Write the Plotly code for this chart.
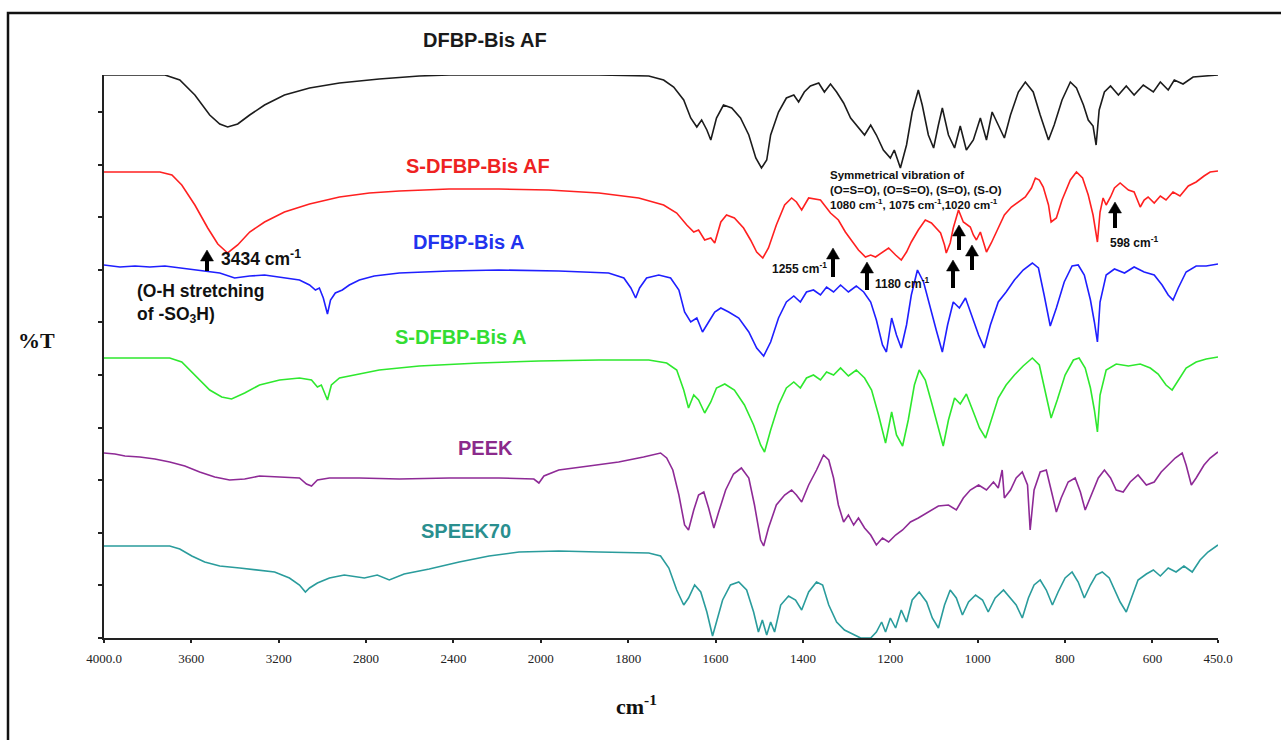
import plotly.graph_objects as go

# ---------------- data (wavenumber cm-1, %T with vertical stacking offset) ----------------
tick_values = [4000, 3600, 3200, 2800, 2400, 2000, 1800, 1600, 1400, 1200, 1000, 800, 600, 450]
tick_labels = ["4000.0", "3600", "3200", "2800", "2400", "2000", "1800", "1600", "1400",
               "1200", "1000", "800", "600", "450.0"]

series_names = ["DFBP-Bis AF", "S-DFBP-Bis AF", "DFBP-Bis A", "S-DFBP-Bis A", "PEEK", "SPEEK70"]

bisaf_w = [4000, 3721, 3653, 3584, 3516, 3470, 3434, 3388, 3333, 3265, 3174, 3059, 2922, 2831, 2740,
           2557, 2420, 1867, 1753, 1719, 1696, 1673, 1657, 1643, 1632, 1620, 1611, 1598, 1582, 1563,
           1543, 1524, 1508, 1495, 1483, 1474, 1456, 1438, 1421, 1410, 1397, 1383, 1364, 1351, 1337,
           1323, 1307, 1291, 1273, 1259, 1245, 1232, 1216, 1200, 1191, 1177, 1163, 1150, 1136, 1127,
           1113, 1101, 1090, 1081, 1067, 1053, 1040, 1026, 1010, 994, 980, 967, 953, 939, 925, 907,
           891, 873, 857, 838, 825, 807, 788, 774, 758, 747, 736, 729, 722, 710, 696, 678, 660, 642,
           621, 598, 582, 564, 550, 530, 507, 484, 450]
bisaf_t = [112.6, 112.6, 111.6, 108.6, 104.6, 102.8, 102.2, 102.8, 104.6, 106.6, 108.6, 110.0, 111.0,
           111.4, 111.8, 112.4, 112.6, 112.6, 112.4, 111.6, 110.2, 107.6, 104.0, 102.2, 103.6, 101.6,
           99.6, 104.0, 106.6, 106.0, 104.0, 100.6, 96.0, 94.0, 95.6, 100.6, 105.2, 108.0, 108.6,
           107.2, 109.2, 110.4, 111.0, 109.2, 110.8, 109.2, 107.0, 104.0, 102.0, 100.6, 102.6, 100.6,
           97.6, 96.0, 97.6, 94.0, 98.6, 105.2, 109.6, 106.6, 100.6, 98.0, 102.6, 106.0, 100.6, 98.0,
           102.4, 97.6, 99.6, 104.0, 99.6, 105.2, 102.6, 100.0, 104.6, 109.2, 111.2, 109.2, 104.6,
           99.6, 102.6, 107.6, 111.2, 110.0, 106.6, 103.6, 102.4, 98.6, 105.6, 109.2, 110.4, 108.6,
           110.4, 108.6, 110.6, 109.2, 111.2, 109.6, 111.6, 110.8, 112.2, 112.4, 112.6]

sbisaf_w = [4000, 3744, 3689, 3644, 3584, 3525, 3479, 3434, 3388, 3333, 3265, 3174, 3059, 2922, 2785,
            2648, 2420, 2192, 1982, 1867, 1776, 1719, 1689, 1666, 1650, 1639, 1625, 1611, 1602, 1588,
            1575, 1557, 1536, 1520, 1506, 1492, 1479, 1461, 1442, 1426, 1415, 1403, 1387, 1360, 1337,
            1319, 1303, 1289, 1273, 1257, 1245, 1234, 1218, 1204, 1188, 1175, 1163, 1152, 1136, 1120,
            1106, 1085, 1076, 1072, 1063, 1056, 1044, 1033, 1017, 1010, 1003, 994, 980, 969, 953, 939,
            923, 907, 891, 877, 868, 859, 850, 838, 832, 820, 807, 788, 774, 760, 747, 736, 726, 720,
            713, 706, 696, 687, 674, 655, 642, 628, 619, 610, 596, 582, 569, 553, 537, 518, 500, 482,
            468, 450]
sbisaf_t = [93.2, 93.2, 92.6, 90.6, 86.6, 82.0, 78.8, 77.0, 78.6, 81.2, 83.2, 85.2, 86.8, 88.2, 89.0,
            89.4, 89.8, 89.8, 89.6, 89.0, 88.0, 86.6, 85.0, 82.6, 81.2, 81.6, 79.6, 80.0, 79.0, 83.2,
            84.6, 84.0, 82.0, 79.6, 77.2, 76.0, 78.0, 82.6, 86.6, 88.0, 87.2, 85.6, 88.0, 87.6, 85.0,
            83.6, 81.2, 79.6, 77.6, 76.2, 76.6, 76.2, 77.2, 78.0, 76.6, 75.6, 77.2, 79.2, 81.6, 83.6,
            83.0, 81.0, 78.6, 77.0, 79.0, 82.0, 85.6, 83.2, 82.2, 80.6, 79.6, 81.2, 77.2, 79.0, 82.0,
            84.6, 86.2, 87.2, 88.2, 90.0, 92.0, 91.6, 90.2, 86.6, 83.2, 84.0, 87.6, 91.6, 93.2, 92.0,
            88.6, 84.6, 79.2, 85.2, 88.0, 86.6, 88.2, 90.0, 91.0, 89.6, 89.2, 86.2, 87.6, 88.2, 87.0,
            88.4, 87.6, 89.2, 88.4, 90.4, 91.2, 92.4, 93.2, 93.4]

bisa_w = [4000, 3927, 3858, 3790, 3721, 3653, 3562, 3470, 3402, 3333, 3265, 3174, 3105, 3059, 3032,
          3014, 2996, 2977, 2963, 2941, 2909, 2877, 2831, 2763, 2648, 2420, 2192, 1959, 1845, 1810,
          1794, 1783, 1774, 1758, 1730, 1703, 1684, 1671, 1657, 1643, 1630, 1616, 1602, 1588, 1570,
          1547, 1524, 1506, 1490, 1474, 1456, 1438, 1421, 1406, 1392, 1376, 1360, 1346, 1330, 1314,
          1296, 1278, 1261, 1245, 1232, 1218, 1209, 1197, 1186, 1175, 1163, 1152, 1138, 1124, 1108,
          1095, 1081, 1069, 1056, 1042, 1028, 1012, 998, 985, 971, 953, 935, 916, 896, 875, 861, 848,
          834, 820, 802, 784, 770, 756, 742, 733, 726, 720, 706, 687, 664, 642, 619, 596, 578, 564,
          553, 541, 523, 500, 477, 450]
bisa_t = [74.6, 74.2, 74.4, 74.2, 74.4, 74.0, 73.6, 73.0, 72.0, 72.4, 72.6, 72.0, 71.6, 70.6, 69.6,
          70.0, 68.0, 64.8, 67.6, 69.0, 69.6, 70.6, 71.6, 72.4, 73.0, 73.4, 73.6, 73.4, 73.0, 72.0,
          70.0, 68.0, 70.0, 72.0, 72.6, 72.0, 69.6, 65.2, 63.2, 64.0, 61.2, 63.2, 65.2, 66.0, 65.2,
          64.0, 61.2, 58.0, 56.4, 59.2, 64.0, 67.2, 68.4, 67.2, 69.2, 69.6, 68.6, 70.2, 69.2, 70.6,
          69.2, 70.4, 69.2, 67.2, 63.6, 58.6, 57.2, 64.0, 60.6, 58.0, 62.6, 68.6, 73.6, 71.2, 65.6,
          61.6, 57.2, 62.6, 67.2, 66.0, 68.0, 64.0, 60.6, 58.0, 62.6, 67.2, 69.2, 71.6, 73.6, 75.0,
          74.0, 68.6, 62.4, 66.0, 71.2, 74.4, 74.6, 72.6, 67.6, 63.2, 59.2, 67.2, 72.6, 73.8, 73.0,
          74.2, 73.2, 72.6, 70.6, 68.6, 67.6, 70.0, 73.2, 74.4, 74.4, 74.8]

sbisa_w = [4000, 3699, 3644, 3584, 3516, 3461, 3416, 3356, 3288, 3196, 3105, 3050, 3023, 3005, 2977,
           2959, 2922, 2831, 2740, 2557, 2283, 2009, 1867, 1753, 1712, 1689, 1673, 1662, 1650, 1639,
           1625, 1611, 1598, 1579, 1557, 1534, 1513, 1497, 1488, 1474, 1456, 1438, 1421, 1406, 1392,
           1376, 1360, 1346, 1330, 1314, 1296, 1278, 1259, 1243, 1227, 1211, 1197, 1186, 1172, 1159,
           1145, 1134, 1120, 1106, 1092, 1079, 1067, 1053, 1040, 1026, 1010, 996, 982, 969, 953, 935,
           916, 896, 875, 859, 845, 832, 818, 800, 781, 768, 754, 742, 733, 726, 720, 706, 683, 655,
           628, 605, 587, 569, 555, 541, 523, 500, 477, 450]
sbisa_t = [56.0, 56.0, 55.2, 52.6, 49.6, 48.2, 47.8, 49.0, 50.6, 51.6, 52.0, 51.6, 50.2, 50.6, 47.6,
           50.6, 52.0, 52.8, 53.6, 54.4, 55.0, 55.4, 55.6, 55.6, 55.0, 53.6, 49.6, 46.0, 48.6, 47.6,
           45.0, 47.2, 50.0, 50.8, 49.6, 46.6, 42.6, 38.6, 37.2, 41.6, 46.6, 50.0, 51.2, 50.0, 52.0,
           52.6, 51.6, 53.2, 52.6, 54.0, 52.4, 53.6, 52.0, 49.6, 44.6, 39.0, 45.2, 40.6, 38.4, 43.6,
           50.6, 53.6, 51.6, 47.2, 42.6, 38.4, 43.6, 48.0, 46.8, 48.8, 45.2, 42.0, 40.0, 43.6, 48.0,
           50.6, 52.6, 54.4, 56.0, 54.6, 49.2, 44.0, 47.6, 52.6, 55.6, 56.0, 54.0, 50.0, 45.6, 41.2,
           48.6, 53.6, 54.8, 54.4, 54.8, 54.0, 52.8, 50.6, 49.6, 51.6, 54.0, 55.2, 55.8, 56.2]

peek_w = [4000, 3950, 3904, 3836, 3767, 3699, 3630, 3562, 3493, 3425, 3356, 3288, 3196, 3105, 3073,
          3050, 3023, 2968, 2831, 2648, 2420, 2192, 2032, 2009, 1993, 1959, 1890, 1822, 1765, 1726,
          1712, 1698, 1684, 1671, 1662, 1650, 1639, 1627, 1616, 1604, 1593, 1577, 1559, 1541, 1524,
          1511, 1497, 1490, 1479, 1461, 1442, 1426, 1415, 1403, 1387, 1369, 1353, 1341, 1330, 1319,
          1307, 1296, 1284, 1273, 1259, 1245, 1232, 1218, 1204, 1188, 1172, 1154, 1136, 1113, 1090,
          1067, 1049, 1033, 1017, 998, 980, 964, 953, 944, 939, 925, 912, 898, 886, 880, 871, 857,
          843, 832, 820, 809, 793, 777, 765, 754, 740, 724, 710, 696, 683, 667, 651, 633, 614, 596,
          580, 564, 548, 532, 523, 511, 500, 482, 468, 450]
peek_t = [37.0, 36.8, 36.4, 36.2, 35.8, 35.2, 34.4, 33.2, 32.2, 31.6, 31.8, 32.4, 32.2, 32.0, 30.8,
          30.4, 31.6, 32.0, 32.0, 31.8, 32.0, 32.0, 31.8, 31.0, 32.4, 33.6, 34.4, 35.2, 36.2, 37.0,
          36.0, 33.6, 28.6, 22.6, 21.6, 25.6, 28.6, 29.2, 26.0, 22.0, 25.2, 29.6, 32.8, 34.0, 32.0,
          26.6, 19.6, 18.4, 22.0, 26.6, 28.6, 29.6, 28.6, 27.2, 30.6, 33.6, 36.6, 35.6, 32.0, 26.6,
          23.2, 24.6, 22.6, 24.0, 22.0, 20.6, 18.6, 20.0, 19.2, 20.6, 21.6, 23.2, 24.0, 25.2, 26.4,
          26.6, 25.6, 28.0, 29.6, 30.6, 29.6, 31.2, 30.0, 33.6, 28.0, 29.6, 32.0, 33.2, 30.6, 21.6,
          29.6, 33.2, 33.6, 29.6, 25.2, 28.0, 31.2, 32.0, 29.2, 25.6, 28.6, 32.0, 33.6, 32.0, 29.6,
          29.2, 31.2, 32.6, 30.6, 31.2, 33.2, 34.6, 36.0, 37.0, 34.6, 30.6, 32.0, 34.6, 36.0, 37.2]

speek_w = [4000, 3699, 3653, 3598, 3539, 3470, 3379, 3288, 3219, 3151, 3105, 3078, 3059, 3023, 2968,
           2900, 2808, 2749, 2694, 2626, 2511, 2374, 2237, 2100, 1959, 1867, 1753, 1726, 1707, 1689,
           1673, 1662, 1648, 1634, 1620, 1607, 1598, 1584, 1566, 1547, 1529, 1513, 1502, 1493, 1483,
           1474, 1465, 1451, 1433, 1417, 1403, 1387, 1369, 1355, 1341, 1323, 1305, 1284, 1268, 1245,
           1232, 1220, 1211, 1200, 1188, 1175, 1163, 1150, 1134, 1117, 1104, 1090, 1076, 1063, 1049,
           1035, 1021, 1005, 989, 976, 960, 941, 925, 912, 898, 884, 871, 857, 843, 829, 816, 800,
           784, 770, 756, 742, 729, 715, 699, 687, 674, 660, 646, 633, 614, 598, 582, 564, 546, 528,
           509, 491, 473, 450]
speek_t = [18.4, 18.4, 17.8, 16.4, 15.2, 14.4, 14.0, 13.6, 13.2, 12.0, 10.6, 9.2, 10.0, 11.0, 12.0,
           12.6, 12.0, 12.6, 11.6, 12.8, 13.8, 15.2, 16.4, 17.2, 17.4, 17.2, 17.0, 16.4, 14.0, 9.6,
           6.6, 8.0, 10.6, 9.2, 5.2, 0.4, 3.2, 7.6, 10.6, 11.2, 9.6, 5.2, 1.2, 3.6, 0.6, 3.2, 1.2,
           6.6, 8.4, 7.6, 5.6, 9.2, 11.2, 10.6, 6.6, 3.2, 1.6, 0.6, 0.0, 0.0, 1.2, 3.2, 1.2, 4.0, 2.0,
           5.6, 3.2, 7.6, 9.2, 7.2, 4.0, 2.0, 6.6, 9.6, 8.0, 4.6, 7.2, 8.6, 7.6, 5.2, 8.0, 9.6, 8.0,
           6.6, 4.0, 8.0, 10.6, 11.6, 9.6, 6.6, 9.2, 12.0, 13.2, 11.2, 8.0, 10.6, 12.6, 13.2, 12.0,
           9.6, 7.2, 5.2, 8.6, 11.6, 12.8, 13.6, 12.4, 14.0, 13.2, 14.4, 13.2, 15.6, 17.2, 18.6]

# ---------------- styling ----------------
colors = ["#1c1c1c", "#ff2020", "#1f1fff", "#2ee82e", "#8e2a96", "#2a9c9c"]
label_colors = ["#1a1a1a", "#ee2222", "#2233ee", "#33dd33", "#8b2a8b", "#2a8f8f"]

W, H = 1281, 740
L, R, T, B = 104, 1218, 75, 638


def xt(w):
    # compressed scale above 2000 cm-1 (as on the instrument plot)
    return (4000 - w) / 2.0 if w >= 2000 else 1000 + (2000 - w)


def pxp(x):
    return (x - L) / (R - L)


def pyp(y):
    return (B - y) / (B - T)


fig = go.Figure()
all_w = [bisaf_w, sbisaf_w, bisa_w, sbisa_w, peek_w, speek_w]
all_t = [bisaf_t, sbisaf_t, bisa_t, sbisa_t, peek_t, speek_t]
for name, wv, tv, c in zip(series_names, all_w, all_t, colors):
    fig.add_trace(go.Scatter(x=[xt(w) for w in wv], y=tv, mode="lines", name=name,
                             line=dict(color=c, width=1.6), hoverinfo="skip"))

ann = []
# series labels
label_pos = [(485, 40), (478, 166), (468, 242), (460, 337), (485, 448), (466, 531)]
for name, (lx, ly), c in zip(series_names, label_pos, label_colors):
    ann.append(dict(text="<b>%s</b>" % name, x=pxp(lx), y=pyp(ly), xref="paper", yref="paper",
                    xanchor="center", yanchor="middle", showarrow=False,
                    font=dict(family="Liberation Sans, Arial", size=20, color=c)))

shapes = []
# arrows drawn as shapes: (x, head y, tail y)
arrows = [(207, 250, 271), (833, 248, 277), (867, 262, 290), (953, 260, 288),
          (959, 225, 250), (972, 245, 270), (1115, 202, 228)]
for ax_, hy, ty in arrows:
    head = "M %f,%f L %f,%f L %f,%f Z" % (pxp(ax_), pyp(hy), pxp(ax_ - 6.5), pyp(hy + 11),
                                          pxp(ax_ + 6.5), pyp(hy + 11))
    shapes.append(dict(type="path", path=head, xref="paper", yref="paper",
                       fillcolor="#000000", line=dict(color="#000000", width=0.5)))
    shapes.append(dict(type="rect", xref="paper", yref="paper", x0=pxp(ax_ - 2), x1=pxp(ax_ + 2),
                       y0=pyp(ty), y1=pyp(hy + 10), fillcolor="#000000",
                       line=dict(color="#000000", width=0)))

small = dict(family="Liberation Sans, Arial", color="#111111")
ann.append(dict(text="<b>3434 cm<sup>-1</sup></b>", x=pxp(219), y=pyp(258), xref="paper",
                yref="paper", xanchor="left", yanchor="middle", showarrow=False,
                font=dict(size=17.5, **small)))
ann.append(dict(text="<b>(O-H stretching<br>of -SO<sub>3</sub>H)</b>", x=pxp(135), y=pyp(303),
                xref="paper", yref="paper", xanchor="left", yanchor="middle", showarrow=False,
                align="left", font=dict(size=17.5, **small)))
ann.append(dict(text="<b>Symmetrical vibration of<br>(O=S=O), (O=S=O), (S=O), (S-O)<br>"
                     "1080 cm<sup>-1</sup>, 1075 cm<sup>-1</sup>,1020 cm<sup>-1</sup></b>",
                x=pxp(828), y=pyp(190), xref="paper", yref="paper", xanchor="left",
                yanchor="middle", showarrow=False, align="left",
                font=dict(size=11.5, **small)))
ann.append(dict(text="<b>1255 cm<sup>-1</sup></b>", x=pxp(770), y=pyp(268), xref="paper",
                yref="paper", xanchor="left", yanchor="middle", showarrow=False,
                font=dict(size=12, **small)))
ann.append(dict(text="<b>1180 cm<sup>-1</sup></b>", x=pxp(873), y=pyp(283), xref="paper",
                yref="paper", xanchor="left", yanchor="middle", showarrow=False,
                font=dict(size=12, **small)))
ann.append(dict(text="<b>598 cm<sup>-1</sup></b>", x=pxp(1108), y=pyp(242), xref="paper",
                yref="paper", xanchor="left", yanchor="middle", showarrow=False,
                font=dict(size=12, **small)))

# axis titles
ann.append(dict(text="<b>%T</b>", x=pxp(36), y=pyp(340), xref="paper", yref="paper",
                xanchor="center", yanchor="middle", showarrow=False,
                font=dict(family="Liberation Serif, Times New Roman", size=22, color="#111")))
ann.append(dict(text="<b>cm<sup>-1</sup></b>", x=pxp(636), y=pyp(705), xref="paper", yref="paper",
                xanchor="center", yanchor="middle", showarrow=False,
                font=dict(family="Liberation Serif, Times New Roman", size=22, color="#111")))

shapes.append(dict(type="rect", xref="paper", yref="paper", x0=pxp(8), x1=pxp(1290), y0=pyp(760),
                   y1=pyp(13), line=dict(color="#111111", width=2.5), fillcolor="rgba(0,0,0,0)"))

fig.update_layout(
    width=W, height=H,
    margin=dict(l=L, r=W - R, t=T, b=H - B),
    paper_bgcolor="white", plot_bgcolor="white",
    showlegend=False, hovermode=False,
    annotations=ann, shapes=shapes,
    xaxis=dict(range=[0, xt(450)], tickmode="array", tickvals=[xt(v) for v in tick_values],
               ticktext=tick_labels, showgrid=False, zeroline=False, showline=True,
               linecolor="#222", linewidth=2, ticks="outside", ticklen=3, tickwidth=1.5,
               tickcolor="#222", ticklabelstandoff=4,
               tickfont=dict(family="Liberation Serif, Times New Roman", size=13, color="#222")),
    yaxis=dict(range=[0, 112.6], tick0=0, dtick=10.52, showticklabels=False, showgrid=False,
               zeroline=False, showline=True, linecolor="#222", linewidth=2, ticks="outside",
               ticklen=4, tickwidth=1.5, tickcolor="#222"),
)

fig.write_html("out.html")
